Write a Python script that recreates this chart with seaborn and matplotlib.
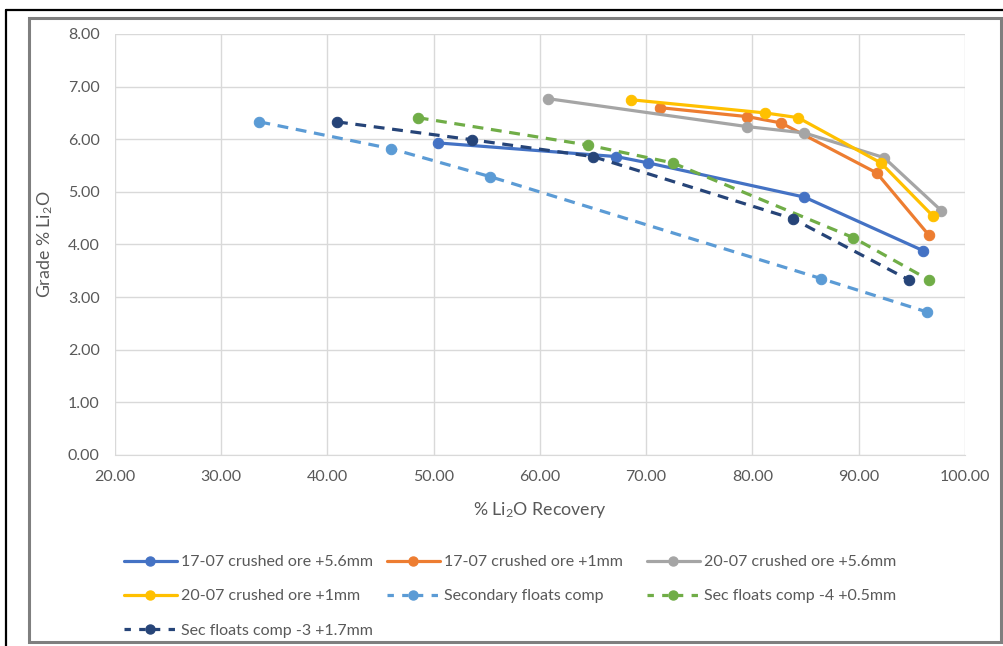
import numpy as np
import pandas as pd
import matplotlib
matplotlib.use('Agg')
import matplotlib.pyplot as plt
import seaborn as sns
from matplotlib.lines import Line2D
from matplotlib.patches import Rectangle

# --- data ---
series_names = ['17-07 crushed ore +5.6mm', '17-07 crushed ore +1mm', '20-07 crushed ore +5.6mm',
                '20-07 crushed ore +1mm', 'Secondary floats comp', 'Sec floats comp -4 +0.5mm',
                'Sec floats comp -3 +1.7mm']

rec_1707_56 = [50.4, 67.2, 70.2, 84.9, 96.1]
grade_1707_56 = [5.93, 5.67, 5.55, 4.90, 3.88]

rec_1707_1 = [71.3, 79.5, 82.7, 91.7, 96.6]
grade_1707_1 = [6.60, 6.43, 6.31, 5.36, 4.18]

rec_2007_56 = [60.8, 79.5, 84.9, 92.4, 97.8]
grade_2007_56 = [6.77, 6.24, 6.12, 5.65, 4.64]

rec_2007_1 = [68.6, 81.2, 84.3, 92.1, 97.0]
grade_2007_1 = [6.75, 6.50, 6.41, 5.55, 4.54]

rec_sec = [33.6, 46.0, 55.3, 86.5, 96.4]
grade_sec = [6.33, 5.82, 5.29, 3.35, 2.72]

rec_sec_4 = [48.5, 64.5, 72.5, 89.5, 96.6]
grade_sec_4 = [6.41, 5.89, 5.55, 4.13, 3.33]

rec_sec_3 = [40.9, 53.6, 65.0, 83.8, 94.7]
grade_sec_3 = [6.33, 5.99, 5.67, 4.49, 3.33]

x_ticks = [20, 30, 40, 50, 60, 70, 80, 90, 100]
y_ticks = [0, 1, 2, 3, 4, 5, 6, 7, 8]

recs = [rec_1707_56, rec_1707_1, rec_2007_56, rec_2007_1, rec_sec, rec_sec_4, rec_sec_3]
grades = [grade_1707_56, grade_1707_1, grade_2007_56, grade_2007_1, grade_sec, grade_sec_4, grade_sec_3]

df = pd.concat([pd.DataFrame({'Recovery': r, 'Grade': g, 'Series': n})
                for r, g, n in zip(recs, grades, series_names)], ignore_index=True)

# Excel-like styling
colors = ['#4472C4', '#ED7D31', '#A5A5A5', '#FFC000', '#5B9BD5', '#70AD47', '#264478']
dashed = [False, False, False, False, True, True, True]
text_col = '#595959'

sns.set_style('white')
plt.rcParams['font.family'] = ['Lato', 'DejaVu Sans']
plt.rcParams['mathtext.fontset'] = 'custom'
plt.rcParams['mathtext.rm'] = 'Lato'
plt.rcParams['mathtext.it'] = 'Lato:italic'

fig = plt.figure(figsize=(10.04, 6.46), dpi=100)
ax = fig.add_axes([0.1145, 0.2957, 0.8465, 0.6517])

for name, col, dsh in zip(series_names, colors, dashed):
    sub = df[df['Series'] == name]
    sns.lineplot(data=sub, x='Recovery', y='Grade', ax=ax, color=col, lw=2.3,
                 marker='o', markersize=7.5, markeredgecolor=col, sort=False,
                 estimator=None, legend=False, dashes=False)
    if dsh:
        ax.lines[-1].set_dashes((3.4, 2.4))

ax.set_xlim(20, 100)
ax.set_ylim(0, 8)
ax.set_xticks(x_ticks)
ax.set_yticks(y_ticks)
ax.set_xticklabels([f'{v:.2f}' for v in x_ticks])
ax.set_yticklabels([f'{v:.2f}' for v in y_ticks])
ax.tick_params(length=0, labelsize=11.5, colors=text_col)
ax.tick_params(axis='x', pad=11)
ax.tick_params(axis='y', pad=11)
ax.grid(True, color='#d9d9d9', lw=1)
ax.set_axisbelow(True)
for s in ['top', 'right', 'left']:
    ax.spines[s].set_visible(False)
ax.spines['bottom'].set_color('#d9d9d9')

ax.set_xlabel(r'% Li$_2$O Recovery', fontsize=12.8, color=text_col, labelpad=11)
ax.set_ylabel(r'Grade % Li$_2$O', fontsize=12.8, color=text_col, labelpad=9)

# legend: three fixed columns, Excel style (row-major)
handles = []
for name, col, dsh in zip(series_names, colors, dashed):
    h = Line2D([], [], color=col, lw=2.3, marker='o', markersize=6.5, markeredgecolor=col)
    if dsh:
        h.set_dashes((2.0, 2.6))
    handles.append(h)

W, H = 1004, 646
col_groups = [[0, 3, 6], [1, 4], [2, 5]]
col_x = [124, 387, 647]
for grp, cx in zip(col_groups, col_x):
    leg = fig.legend([handles[i] for i in grp], [series_names[i] for i in grp],
                     loc='upper left', bbox_to_anchor=(cx / W, 1 - 555 / H),
                     frameon=False, fontsize=11.5, handlelength=3.3, handletextpad=0.3,
                     labelspacing=1.26, borderpad=0, borderaxespad=0)
    for t in leg.get_texts():
        t.set_color(text_col)

# outer frames
fig.patches.append(Rectangle((29 / W, 1 - 642 / H), (1001 - 29) / W, (642 - 18) / H,
                             transform=fig.transFigure, fill=False, ec='#7f7f7f', lw=2.2))
fig.lines.append(Line2D([6 / W, 1.0], [1 - 10 / H, 1 - 10 / H], transform=fig.transFigure,
                        color='black', lw=1.6))
fig.lines.append(Line2D([6 / W, 6 / W], [0, 1 - 10 / H], transform=fig.transFigure,
                        color='black', lw=1.6))

fig.savefig('out.png', dpi=100)
